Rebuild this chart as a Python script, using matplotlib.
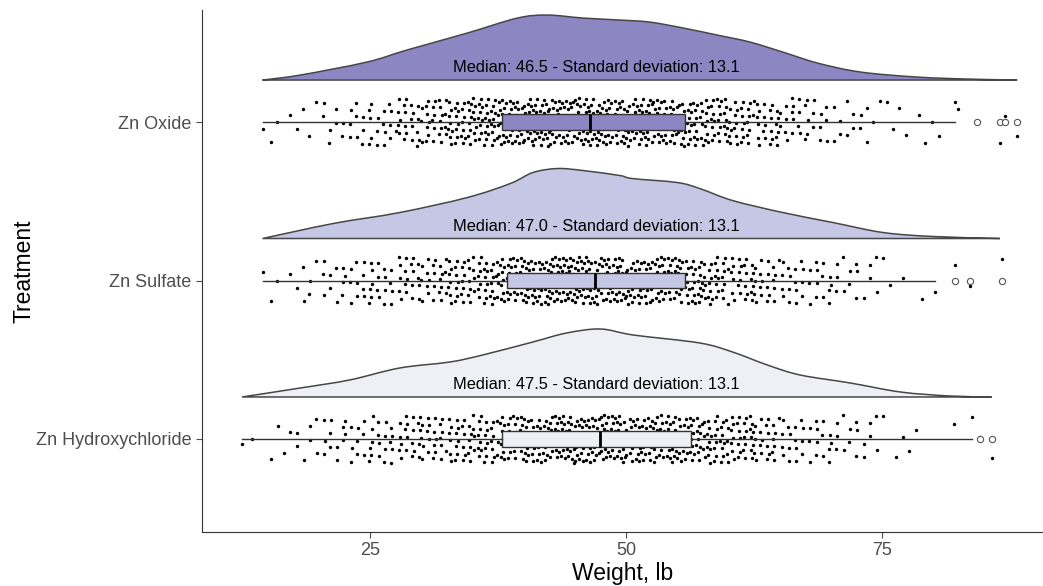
import numpy as np
import matplotlib.pyplot as plt
from matplotlib.path import Path
from matplotlib.patches import PathPatch

# groups, bottom to top
treatments = ['Zn Hydroxychloride', 'Zn Sulfate', 'Zn Oxide']
medians = [47.5, 47.0, 46.5]
std_devs = [13.1, 13.1, 13.1]
fill_colors = ['#efeff6', '#c6c7e4', '#8c86c3']

# density curves (weight, lb  /  relative height)
hydroxy_dens_x = [12.5, 18.2, 23.0, 27.9, 32.8, 36.0, 40.9, 44.2, 47.5, 50.7, 57.2, 60.4, 63.8, 67.0, 71.9, 76.8, 81.6, 85.7]
hydroxy_dens_h = [0, 9, 17, 29, 35, 42, 55, 64, 68, 62, 54, 45, 32, 22, 14, 5, 1, 0]
sulfate_dens_x = [14.5, 21.4, 27.9, 34.5, 38.7, 40.9, 43.3, 45.8, 49.4, 50.6, 55.0, 57.2, 60.4, 65.3, 70.2, 75.1, 80.0, 86.5]
sulfate_dens_h = [0, 15, 26, 41, 55, 66, 70, 68, 63, 60, 56, 50, 38, 26, 16, 6, 2, 0]
oxide_dens_x = [14.5, 18.2, 24.7, 28.6, 34.5, 39.4, 42.3, 45.8, 49.4, 52.3, 55.6, 58.9, 62.1, 65.3, 68.7, 72.9, 78.4, 83.3, 88.2]
oxide_dens_h = [0, 5, 18, 30, 47, 62, 65, 62, 60, 58, 52, 45, 38, 28, 17, 8, 3, 1, 0]

# box statistics
hydroxy_box = dict(whislo=12.5, q1=37.9, med=47.5, q3=56.3, whishi=83.8, fliers=[84.6, 85.7])
sulfate_box = dict(whislo=14.5, q1=38.4, med=47.0, q3=55.8, whishi=80.2, fliers=[82.1, 83.6, 86.7])
oxide_box = dict(whislo=14.5, q1=37.9, med=46.5, q3=55.8, whishi=82.1, fliers=[84.3, 86.5, 87.0, 88.2])

# estimated number of observations per 2.5 lb bin, starting at 12.5 lb
bin_start = 12.5
bin_width = 2.5
hydroxy_counts = [1, 4, 7, 10, 13, 17, 20, 22, 25, 29, 33, 38, 43, 46, 45, 41, 39, 37, 34, 29, 22, 16, 13, 10, 7, 3, 2, 1, 0]
sulfate_counts = [0, 3, 6, 10, 13, 16, 19, 22, 27, 31, 37, 45, 48, 46, 44, 40, 39, 35, 30, 24, 20, 16, 13, 10, 6, 3, 1]
oxide_counts = [0, 3, 4, 8, 11, 15, 21, 27, 32, 38, 43, 46, 46, 45, 43, 42, 40, 36, 32, 28, 23, 17, 12, 8, 6, 4, 3, 2]

dens_x = [hydroxy_dens_x, sulfate_dens_x, oxide_dens_x]
dens_h = [hydroxy_dens_h, sulfate_dens_h, oxide_dens_h]
boxes = [hydroxy_box, sulfate_box, oxide_box]
counts = [hydroxy_counts, sulfate_counts, oxide_counts]

DENS_SCALE = 1 / 158.5   # relative height -> axis units
DENS_OFFSET = 0.265      # cloud sits above the box
JITTER = 0.15


def smooth_path(x, y, base):
    # Catmull-Rom through the read points, drawn as cubic Beziers
    p = np.column_stack([x, y])
    ext = np.vstack([p[0], p, p[-1]])
    verts = [p[0]]
    codes = [Path.MOVETO]
    for k in range(len(p) - 1):
        p0, p1, p2, p3 = ext[k], ext[k + 1], ext[k + 2], ext[k + 3]
        c1 = p1 + (p2 - p0) / 6
        c2 = p2 - (p3 - p1) / 6
        c1[1] = max(c1[1], base)
        c2[1] = max(c2[1], base)
        verts += [c1, c2, p2]
        codes += [Path.CURVE4] * 3
    verts += [p[0], p[0]]
    codes += [Path.LINETO, Path.CLOSEPOLY]
    return Path(verts, codes)


plt.rcParams['font.family'] = ['Liberation Sans', 'DejaVu Sans']

fig = plt.figure(figsize=(10.43, 5.86), dpi=100)
ax = fig.add_axes([202 / 1043, 54 / 586, 1 - 202 / 1043, (532 - 10) / 586])

for i, name in enumerate(treatments):
    pos = i + 1
    base = pos + DENS_OFFSET
    x = np.array(dens_x[i], dtype=float)
    h = base + np.array(dens_h[i]) * DENS_SCALE
    ax.add_patch(PathPatch(smooth_path(x, h, base), facecolor=fill_colors[i],
                           edgecolor='#474747', lw=1.1, zorder=1))

    ax.text(47.1, base + 0.03, f'Median: {medians[i]:.1f} - Standard deviation: {std_devs[i]:.1f}',
            ha='center', va='bottom', fontsize=11.8, color='black', zorder=4)

    # raw observations: spread inside each bin, jittered vertically
    pts = []
    g = 0
    for k, c in enumerate(counts[i]):
        a = bin_start + k * bin_width
        for j in range(c):
            pts.append(a + bin_width * np.mod(0.37 + (g + j) * 0.7548776662, 1.0))
        g += c
    pts += [boxes[i]['whislo'], boxes[i]['whishi']] + boxes[i]['fliers']
    pts = np.array(pts)
    n = np.arange(len(pts))
    jit = (np.mod(0.5 + n * 0.5698402910, 1.0) * 2 - 1) * JITTER
    ax.scatter(pts, pos + jit, s=6, color='black', linewidths=0, zorder=2)

bxp_stats = [dict(b, label=t) for b, t in zip(boxes, treatments)]
bp = ax.bxp(bxp_stats, positions=[1, 2, 3], widths=0.1, orientation='horizontal',
            patch_artist=True, showcaps=False, manage_ticks=False,
            boxprops=dict(edgecolor='#333333', linewidth=1.0),
            whiskerprops=dict(color='#333333', linewidth=1.0),
            medianprops=dict(color='black', linewidth=2.0),
            flierprops=dict(marker='o', markersize=4.5, markerfacecolor='white',
                            markeredgecolor='#555555', markeredgewidth=0.8),
            zorder=3)
for patch, col in zip(bp['boxes'], fill_colors):
    patch.set_facecolor(col)

ax.set_xlim(8.59, 90.72)
ax.set_ylim(0.413, 3.707)
ax.set_xticks([25, 50, 75])
ax.set_yticks([1, 2, 3])
ax.set_yticklabels(treatments)
ax.tick_params(labelsize=13, colors='#4d4d4d', length=4, width=0.8)
ax.spines['top'].set_visible(False)
ax.spines['right'].set_visible(False)
ax.spines['left'].set_color('#333333')
ax.spines['bottom'].set_color('#333333')
ax.set_xlabel('Weight, lb', fontsize=16.5, labelpad=2)
ax.set_ylabel('Treatment', fontsize=16.5, labelpad=0)

fig.savefig('out.png', dpi=100)
